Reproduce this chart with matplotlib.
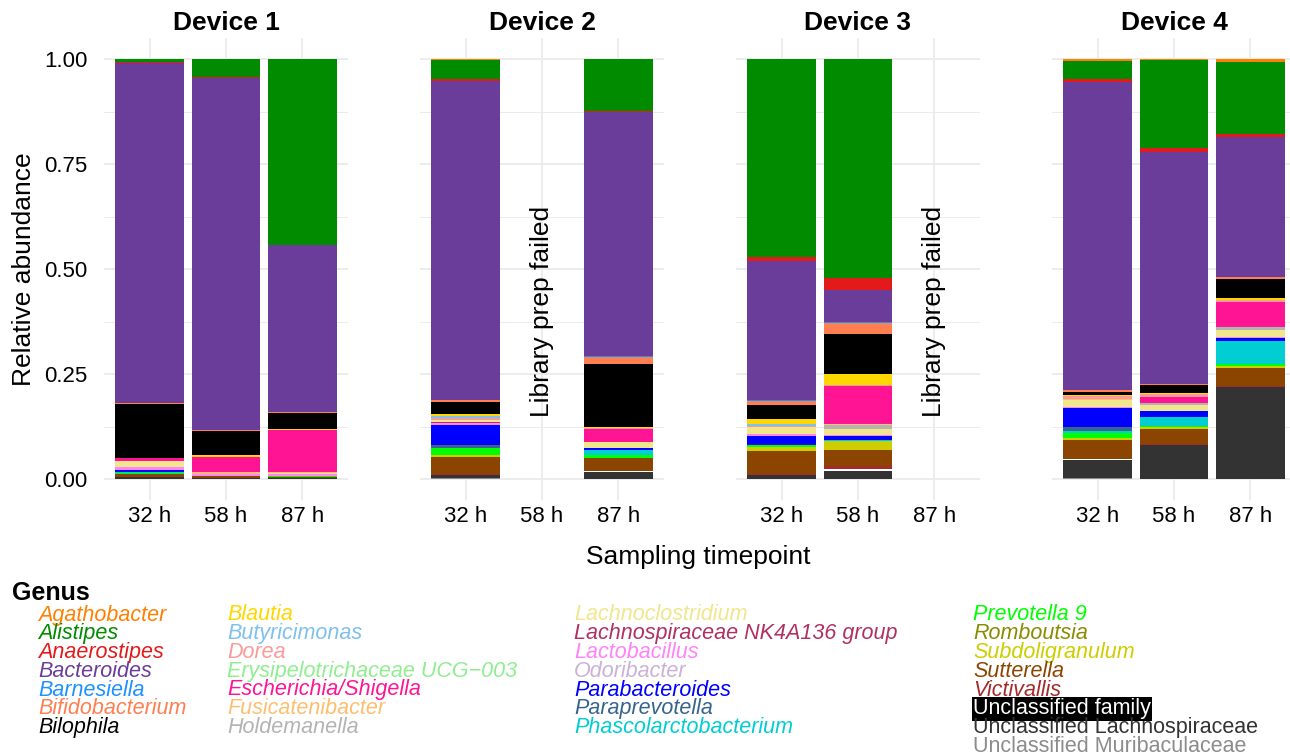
import matplotlib
matplotlib.use("Agg")
import matplotlib.pyplot as plt

plt.rcParams['font.family'] = ['Liberation Sans', 'DejaVu Sans']

genera = ["Agathobacter", "Alistipes", "Anaerostipes", "Bacteroides", "Barnesiella",
          "Bifidobacterium", "Bilophila", "Blautia", "Butyricimonas", "Dorea",
          "Erysipelotrichaceae UCG\u2212003", "Escherichia/Shigella", "Fusicatenibacter",
          "Holdemanella", "Lachnoclostridium", "Lachnospiraceae NK4A136 group",
          "Lactobacillus", "Odoribacter", "Parabacteroides", "Paraprevotella",
          "Phascolarctobacterium", "Prevotella 9", "Romboutsia", "Subdoligranulum",
          "Sutterella", "Victivallis", "Unclassified family",
          "Unclassified Lachnospiraceae", "Unclassified Muribaculaceae"]

colors = ["#FF7F00", "#008B00", "#E31A1C", "#6A3D9A", "#1E90FF",
          "#FF7F50", "#000000", "#FFD700", "#7EC0EE", "#FB9A99",
          "#90EE90", "#FF1493", "#FDBF6F", "#B3B3B3", "#F0E68C",
          "#B03060", "#FF83FA", "#CAB2D6", "#0000FF", "#36648B",
          "#00CED1", "#00FF00", "#8B8B00", "#CDCD00", "#8B4500",
          "#A52A2A", "#FFFFFF", "#333333", "#8C8C8C"]

timepoints = ["32 h", "58 h", "87 h"]
devices = ["Device 1", "Device 2", "Device 3", "Device 4"]
failed_label = "Library prep failed"

# abundances in genus order (None = library prep failed)
#            Aga   Ali   Ana   Bac   Bar   Bif   Bil   Bla   But   Dor   Ery   Esc   Fus   Hol   Lcl   LNK   Lac   Odo   Par   Ppr   Pha   Pre   Rom   Sub   Sut   Vic   Ufa   ULa   UMu
d1_32h = [0.000,0.007,0.002,0.811,0.000,0.002,0.127,0.000,0.000,0.000,0.000,0.008,0.000,0.000,0.015,0.000,0.006,0.000,0.005,0.000,0.003,0.002,0.000,0.000,0.008,0.000,0.000,0.004,0.000]
d1_58h = [0.000,0.043,0.002,0.839,0.000,0.002,0.058,0.004,0.000,0.000,0.000,0.035,0.005,0.000,0.000,0.000,0.006,0.000,0.000,0.000,0.000,0.000,0.000,0.000,0.004,0.000,0.000,0.002,0.000]
d1_87h = [0.000,0.444,0.000,0.396,0.000,0.002,0.039,0.002,0.000,0.000,0.000,0.100,0.002,0.000,0.003,0.000,0.005,0.000,0.000,0.000,0.000,0.002,0.000,0.000,0.002,0.000,0.000,0.003,0.000]
d2_32h = [0.002,0.045,0.005,0.760,0.000,0.005,0.029,0.003,0.005,0.005,0.000,0.000,0.000,0.000,0.006,0.002,0.004,0.000,0.048,0.008,0.000,0.016,0.000,0.004,0.041,0.003,0.000,0.006,0.003]
d2_58h = None
d2_87h = [0.000,0.123,0.002,0.582,0.003,0.015,0.150,0.003,0.000,0.004,0.000,0.030,0.000,0.000,0.013,0.000,0.000,0.000,0.006,0.000,0.013,0.005,0.000,0.000,0.032,0.000,0.002,0.017,0.000]
d3_32h = [0.000,0.471,0.010,0.331,0.002,0.010,0.033,0.011,0.005,0.003,0.000,0.000,0.000,0.000,0.017,0.000,0.004,0.000,0.021,0.000,0.000,0.005,0.000,0.011,0.054,0.003,0.000,0.009,0.000]
d3_58h = [0.000,0.522,0.028,0.076,0.002,0.026,0.096,0.025,0.000,0.004,0.000,0.090,0.002,0.010,0.014,0.000,0.003,0.000,0.009,0.000,0.002,0.000,0.000,0.023,0.036,0.007,0.005,0.020,0.000]
d3_87h = None
d4_32h = [0.005,0.043,0.007,0.734,0.000,0.005,0.005,0.003,0.000,0.008,0.000,0.000,0.003,0.000,0.016,0.000,0.003,0.000,0.043,0.010,0.005,0.013,0.000,0.004,0.045,0.000,0.003,0.043,0.002]
d4_58h = [0.002,0.209,0.010,0.553,0.000,0.002,0.019,0.003,0.000,0.006,0.000,0.014,0.000,0.005,0.014,0.000,0.002,0.000,0.013,0.000,0.021,0.003,0.000,0.005,0.035,0.002,0.000,0.082,0.000]
d4_87h = [0.007,0.171,0.008,0.333,0.000,0.005,0.045,0.005,0.000,0.005,0.000,0.059,0.000,0.008,0.017,0.000,0.002,0.000,0.006,0.000,0.056,0.005,0.000,0.004,0.042,0.002,0.000,0.220,0.000]

samples = [[d1_32h, d1_58h, d1_87h],
           [d2_32h, d2_58h, d2_87h],
           [d3_32h, d3_58h, d3_87h],
           [d4_32h, d4_58h, d4_87h]]

W, H = 1290, 756
fig = plt.figure(figsize=(W / 100, H / 100), dpi=100)

panel_left = [104, 420, 736, 1052]
panel_w = 244
panel_top, panel_bottom = 38, 500
grid_c = "#EBEBEB"

for k, dev in enumerate(devices):
    ax = fig.add_axes([panel_left[k] / W, 1 - panel_bottom / H, panel_w / W,
                       (panel_bottom - panel_top) / H])
    ax.set_xlim(0.4, 3.6)
    ax.set_ylim(-0.05, 1.05)
    for s in ax.spines.values():
        s.set_visible(False)
    ax.set_yticks([0, 0.25, 0.5, 0.75, 1.0])
    ax.set_yticks([0.125, 0.375, 0.625, 0.875], minor=True)
    ax.set_xticks([1, 2, 3])
    ax.set_xticklabels(timepoints, fontsize=16)
    ax.grid(True, which="major", color=grid_c, linewidth=1.3)
    ax.grid(True, which="minor", axis="y", color=grid_c, linewidth=0.7)
    ax.set_axisbelow(True)
    ax.tick_params(axis="both", which="both", length=0)
    ax.tick_params(axis="x", pad=4)
    if k == 0:
        ax.set_yticklabels(["0.00", "0.25", "0.50", "0.75", "1.00"], fontsize=16)
        ax.tick_params(axis="y", pad=12)
        ax.set_ylabel("Relative abundance", fontsize=19, labelpad=6)
    else:
        ax.set_yticklabels([])
    ax.set_title(dev, fontsize=19, fontweight="bold", pad=6)
    for j, vals in enumerate(samples[k]):
        if vals is None:
            ax.text(j + 1, 0.40, failed_label, rotation=90, ha="center",
                    va="center", fontsize=19)
            continue
        top = 1.0 * sum(vals)
        for g in range(len(genera)):
            v = vals[g]
            if v <= 0:
                continue
            ax.bar(j + 1, v, bottom=top - v, width=0.9, color=colors[g],
                   linewidth=0)
            top -= v

fig.text(698 / W, 1 - 557 / H, "Sampling timepoint", ha="center", va="center",
         fontsize=19)

# legend
fig.text(12 / W, 1 - 593 / H, "Genus", ha="left", va="center", fontsize=18,
         fontweight="bold")
col_x = [38, 227, 574, 973]
col_n = [7, 7, 7, 8]
row_y0, row_dy = 615, 18.75
idx = 0
for c in range(4):
    for r in range(col_n[c]):
        name = genera[idx]
        col = colors[idx]
        kw = dict(ha="left", va="center", fontsize=15.5)
        if name.startswith("Unclassified"):
            if name == "Unclassified family":
                kw["color"] = "white"
                kw["bbox"] = dict(facecolor="black", edgecolor="none", pad=1.0)
            else:
                kw["color"] = col
        else:
            kw["color"] = col
            kw["style"] = "italic"
        fig.text(col_x[c] / W, 1 - (row_y0 + r * row_dy) / H, name, **kw)
        idx += 1

fig.savefig("out.png", dpi=100)
